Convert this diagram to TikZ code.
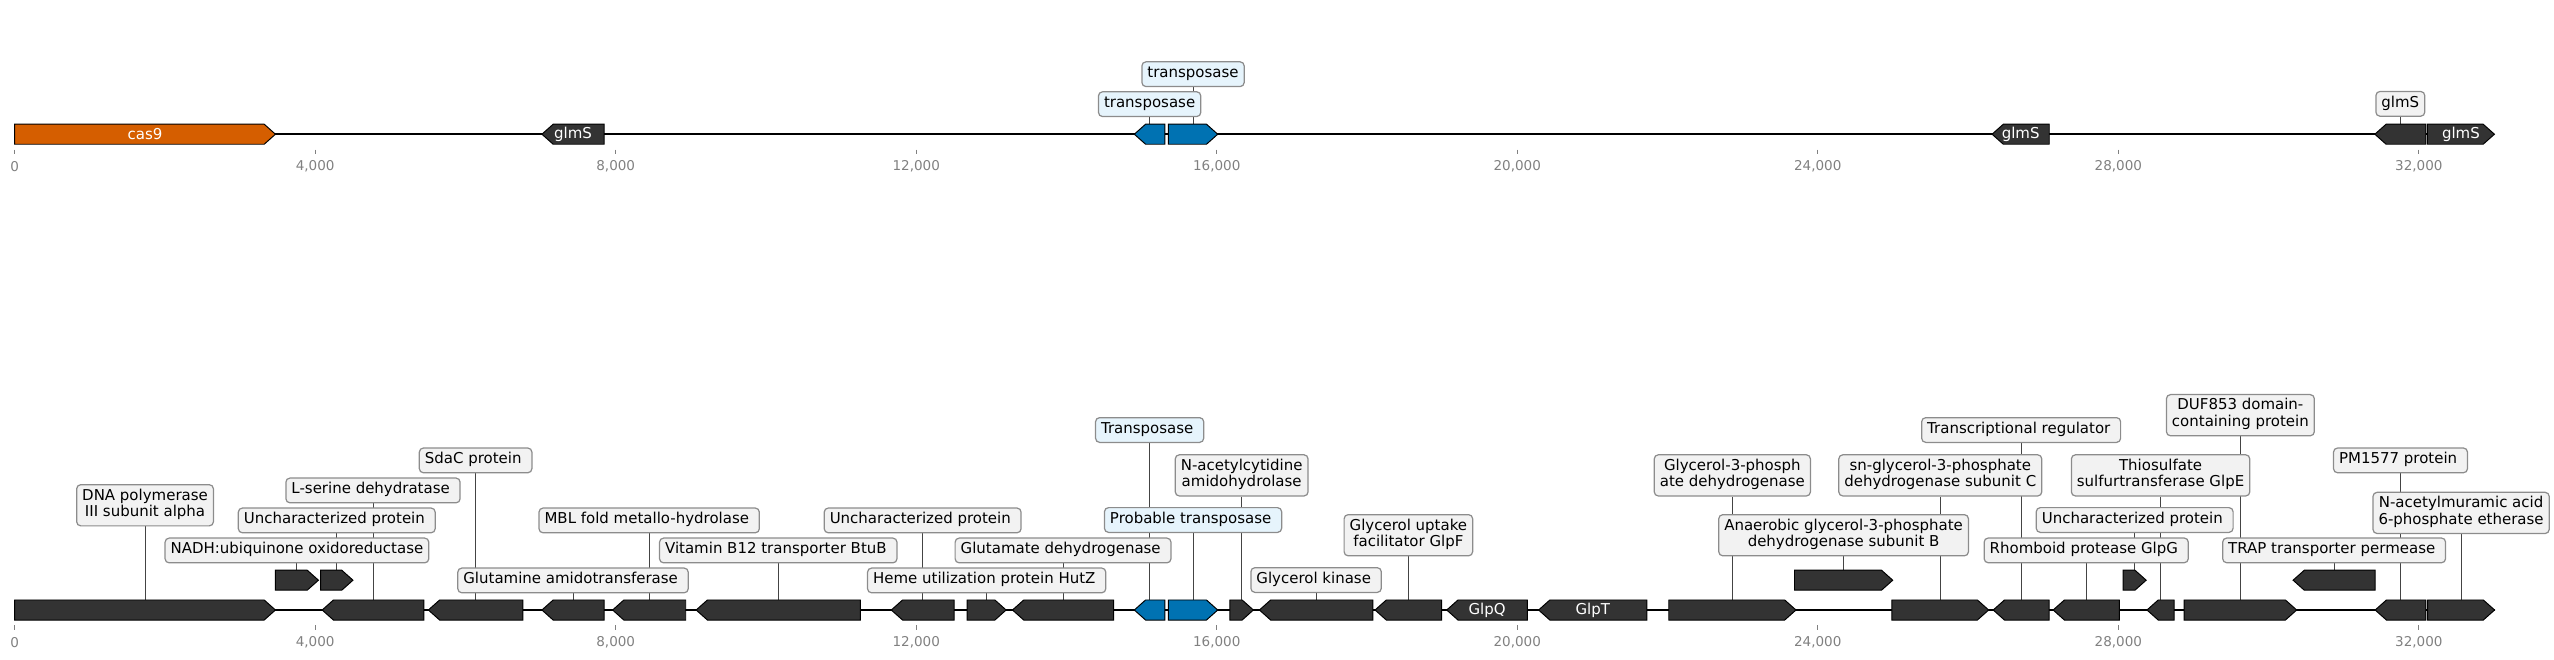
\documentclass[tikz,border=0pt]{standalone}
\usepackage{fontspec}
\setmainfont{DejaVu Sans}
\definecolor{gdark}{HTML}{333333}
\definecolor{gorange}{HTML}{D55E00}
\definecolor{gblue}{HTML}{0072B2}
\definecolor{boxgray}{HTML}{F2F2F2}
\definecolor{boxblue}{HTML}{E6F4FC}
\definecolor{boxedge}{HTML}{8C8C8C}
\definecolor{ticktxt}{HTML}{808080}
\definecolor{connc}{HTML}{444444}
\pgfdeclarelayer{bg}
\pgfsetlayers{bg,main}
\newcommand\lblfont{\fontsize{9.2}{10.3}\selectfont}
\newcommand\hh{6.15}
\newcommand\hd{6.9}
\newcommand\tsp{\kern.318em}
% forward gene: name, x1, x2, yc, fill
\newcommand\gfwd[5]{%
  \filldraw[gene,fill=#5] (#2,#4-\hh) -- (#3-\hd,#4-\hh) -- (#3,#4) -- (#3-\hd,#4+\hh) -- (#2,#4+\hh) -- cycle;
  \coordinate (#1) at ({(#2+#3)/2},{#4-\hh});
  \coordinate (#1c) at ({(#2+#3)/2},#4);}
% reverse gene
\newcommand\grev[5]{%
  \filldraw[gene,fill=#5] (#2,#4) -- (#2+\hd,#4-\hh) -- (#3,#4-\hh) -- (#3,#4+\hh) -- (#2+\hd,#4+\hh) -- cycle;
  \coordinate (#1) at ({(#2+#3)/2},{#4-\hh});
  \coordinate (#1c) at ({(#2+#3)/2},#4);}
% label: [style] name, gene, yc, text
\newcommand\lab[5][]{%
  \node[lbl,#1] (#2) at (#3 |- 0,#4) {#5};
  \begin{pgfonlayer}{bg}\draw[conn] (#2.south) -- (#3);\end{pgfonlayer}}
\begin{document}
\begin{tikzpicture}[x=1pt,y=-1pt,
  gene/.style={draw=black,line width=0.6pt,line join=miter},
  lbl/.style={draw=boxedge,fill=boxgray,rounded corners=2.5pt,line width=0.75pt,
    inner xsep=3.4pt,inner ysep=2.45pt,align=center,font=\lblfont,
    execute at begin node=\strut,execute at end node=\strut},
  blu/.style={fill=boxblue},
  conn/.style={draw=connc,line width=0.6pt},
  axisline/.style={draw=black,line width=1.1pt},
  tickmark/.style={draw=ticktxt,line width=0.5pt},
  ticklab/.style={text=ticktxt,font=\fontsize{8.3}{9}\selectfont,inner sep=0pt},
  inlab/.style={text=white,font=\lblfont,inner sep=0pt}]
\useasboundingbox (0,0) rectangle (1568,405);
% ---------------- top panel ----------------
\draw[axisline] (9,82.4) -- (1531.4,82.4);
\foreach \k in {0,...,8}{
  \draw[tickmark] ({9+184.5*\k},91.8) -- ({9+184.5*\k},94.6);
  \node[ticklab] (tt\k) at ({9+184.5*\k},102.3) {\ifnum\k=0 0\else\number\numexpr4*\k\relax,000\fi};
}
\gfwd{T1}{9.0}{169.1}{82.4}{gorange}
\grev{T2}{332.7}{370.9}{82.4}{gdark}
\grev{T3}{696.4}{715.2}{82.4}{gblue}
\gfwd{T4}{717.3}{747.6}{82.4}{gblue}
\grev{T5}{1223.0}{1258.1}{82.4}{gdark}
\grev{T6}{1458.0}{1489.3}{82.4}{gdark}
\gfwd{T7}{1490.3}{1531.4}{82.4}{gdark}
\node[inlab] (iT1) at (T1c) {cas9};
\node[inlab] (iT2) at (T2c) {glmS};
\node[inlab] (iT5) at (T5c) {glmS};
\node[inlab] (iT7) at (T7c) {glmS};
\lab[blu]{LT3}{T3}{63.95}{transposase}
\lab[blu]{LT4}{T4}{45.55}{transposase}
\lab{LT6}{T6}{63.75}{glmS}
% ---------------- bottom panel ----------------
\draw[axisline] (9,374.5) -- (1531.5,374.5);
\foreach \k in {0,...,8}{
  \draw[tickmark] ({9+184.5*\k},383.9) -- ({9+184.5*\k},386.7);
  \node[ticklab] (tb\k) at ({9+184.5*\k},394.4) {\ifnum\k=0 0\else\number\numexpr4*\k\relax,000\fi};
}
\gfwd{B1}{9.0}{169.1}{374.5}{gdark}
\gfwd{B2}{169.1}{195.5}{356.2}{gdark}
\gfwd{B3}{196.8}{216.7}{356.2}{gdark}
\grev{B4}{197.8}{260.2}{374.5}{gdark}
\grev{B5}{263.0}{321.0}{374.5}{gdark}
\grev{B6}{332.7}{370.9}{374.5}{gdark}
\grev{B7}{376.1}{421.0}{374.5}{gdark}
\grev{B8}{427.4}{528.2}{374.5}{gdark}
\grev{B9}{547.2}{585.7}{374.5}{gdark}
\gfwd{B10}{593.8}{617.7}{374.5}{gdark}
\grev{B11}{621.6}{683.7}{374.5}{gdark}
\grev{B12}{696.4}{715.2}{374.5}{gblue}
\gfwd{B13}{717.3}{747.6}{374.5}{gblue}
\gfwd{B14}{755.1}{769.5}{374.5}{gdark}
\grev{B15}{773.2}{842.8}{374.5}{gdark}
\grev{B16}{844.2}{885.1}{374.5}{gdark}
\grev{B17}{888.2}{937.7}{374.5}{gdark}
\grev{B18}{944.6}{1011.1}{374.5}{gdark}
\gfwd{B19}{1024.5}{1102.6}{374.5}{gdark}
\gfwd{B20}{1101.7}{1162.0}{356.2}{gdark}
\gfwd{B21}{1161.5}{1220.9}{374.5}{gdark}
\grev{B22}{1223.7}{1258.0}{374.5}{gdark}
\grev{B23}{1260.5}{1301.1}{374.5}{gdark}
\gfwd{B24}{1303.5}{1317.6}{356.2}{gdark}
\grev{B25}{1318.1}{1334.8}{374.5}{gdark}
\gfwd{B26}{1340.9}{1410.0}{374.5}{gdark}
\grev{B27}{1407.8}{1458.2}{356.2}{gdark}
\grev{B28}{1458.2}{1489.3}{374.5}{gdark}
\gfwd{B29}{1490.4}{1531.5}{374.5}{gdark}
\node[inlab] (iB17) at (B17c) {GlpQ};
\node[inlab] (iB18) at (B18c) {GlpT};
\lab{L1}{B1}{310.2}{DNA polymerase\\III subunit alpha}
\lab{L2}{B2}{337.95}{NADH:ubiquinone oxidoreductase}
\lab{L3}{B3}{319.5}{Uncharacterized protein\tsp}
\lab{L4}{B4}{301.1}{L-serine dehydratase\tsp}
\lab{L5}{B5}{282.65}{SdaC protein\tsp}
\lab{L6}{B6}{356.35}{Glutamine amidotransferase\tsp}
\lab{L7}{B7}{319.5}{MBL fold metallo-hydrolase\tsp}
\lab{L8}{B8}{337.95}{Vitamin B12 transporter BtuB\tsp}
\lab{L9}{B9}{319.5}{Uncharacterized protein\tsp}
\lab{L10}{B10}{356.35}{Heme utilization protein HutZ\tsp}
\lab{L11}{B11}{337.95}{Glutamate dehydrogenase\tsp}
\lab[blu]{L12}{B12}{264.0}{Transposase\tsp}
\lab[blu]{L13}{B13}{319.25}{Probable transposase\tsp}
\lab{L14}{B14}{291.85}{N-acetylcytidine\\amidohydrolase}
\lab{L15}{B15}{356.1}{Glycerol kinase\tsp}
\lab{L16}{B16}{328.6}{Glycerol uptake\\facilitator GlpF}
\lab{L19}{B19}{291.85}{Glycerol-3-phosph\\ate dehydrogenase}
\lab{L20}{B20}{328.6}{Anaerobic glycerol-3-phosphate\\dehydrogenase subunit B}
\lab{L21}{B21}{291.85}{sn-glycerol-3-phosphate\\dehydrogenase subunit C}
\lab{L22}{B22}{264.0}{Transcriptional regulator\tsp}
\lab{L23}{B23}{337.9}{Rhomboid protease GlpG\tsp}
\lab{L24}{B24}{319.25}{Uncharacterized protein\tsp}
\lab{L25}{B25}{291.85}{Thiosulfate\\sulfurtransferase GlpE}
\lab{L26}{B26}{254.9}{DUF853 domain-\\containing protein}
\lab{L27}{B27}{337.9}{TRAP transporter permease\tsp}
\lab{L28}{B28}{282.65}{PM1577 protein\tsp}
\lab{L29}{B29}{314.9}{N-acetylmuramic acid\\6-phosphate etherase}
\end{tikzpicture}
\end{document}
